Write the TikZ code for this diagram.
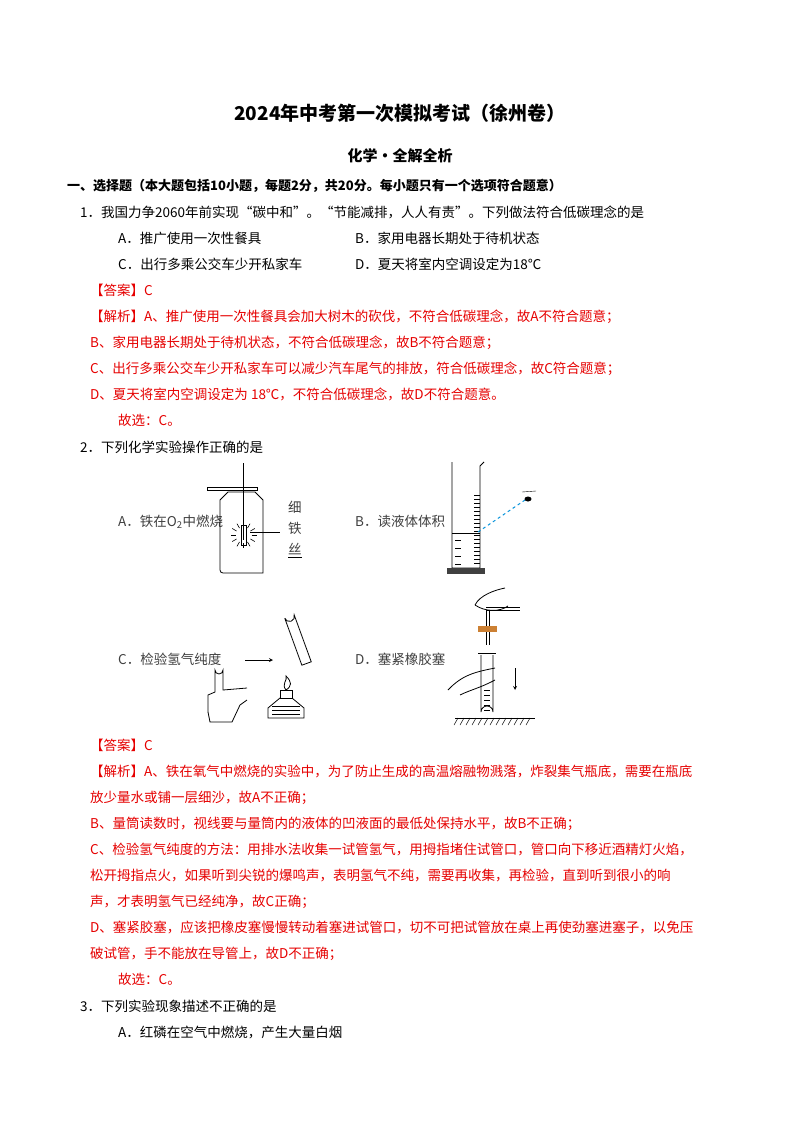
\documentclass[tikz,border=0pt]{standalone}
\usepackage{fontspec}
\usetikzlibrary{calc}
\setmainfont{Liberation Serif}
\newfontfamily\cjk{Noto Sans CJK SC}
\definecolor{ans}{RGB}{230,0,0}
\begin{document}
\begin{tikzpicture}[x=1pt,y=-1pt,
  t/.style={anchor=base west,inner sep=0pt,font=\cjk\fontsize{13.5}{14}\selectfont},
  r/.style={t,text=ans},
  fig/.style={line width=0.8pt},
  lab/.style={t,text=black!75}]
\useasboundingbox[fill=white] (0,0) rectangle (800,1132);
\node[anchor=base,inner sep=0pt,font=\cjk\bfseries\fontsize{19}{20}\selectfont] (title) at (400,120) {2024年中考第一次模拟考试（徐州卷）};
\node[anchor=base,inner sep=0pt,font=\cjk\bfseries\fontsize{15}{16}\selectfont] (sub) at (400,161) {化学·全解全析};
\node[t,font=\cjk\bfseries\fontsize{13}{14}\selectfont] (s1) at (67,190) {一、选择题（本大题包括10小题，每题2分，共20分。每小题只有一个选项符合题意）};
\node[t] (q1) at (80,217) {1．我国力争2060年前实现“碳中和”。“节能减排，人人有责”。下列做法符合低碳理念的是};
\node[t] (q1a) at (118,243) {A．推广使用一次性餐具};
\node[t] (q1b) at (355,243) {B．家用电器长期处于待机状态};
\node[t] (q1c) at (118,269) {C．出行多乘公交车少开私家车};
\node[t] (q1d) at (355,269) {D．夏天将室内空调设定为18℃};
\node[r] (a1) at (90,295) {【答案】C};
\node[r] (j1) at (90,321) {【解析】A、推广使用一次性餐具会加大树木的砍伐，不符合低碳理念，故A不符合题意；};
\node[r] (j2) at (90,347) {B、家用电器长期处于待机状态，不符合低碳理念，故B不符合题意；};
\node[r] (j3) at (90,373) {C、出行多乘公交车少开私家车可以减少汽车尾气的排放，符合低碳理念，故C符合题意；};
\node[r] (j4) at (90,399) {D、夏天将室内空调设定为 18℃，不符合低碳理念，故D不符合题意。};
\node[r] (j5) at (118,425) {故选：C。};
\node[t] (q2) at (80,452) {2．下列化学实验操作正确的是};
% A figure
\node[lab] (la) at (118,526) {A．铁在O\textsubscript{2}中燃烧};
\draw[fig] (220,500) -- (220,570) to[rounded corners=3pt] (220,573) -- (263,573) -- (263,500) -- (255,492) -- (228,492) -- cycle;
\draw[fig] (207,487) rectangle (257,490);
\draw[fig] (243,463) -- (243,540);
\draw[fig] (241,525) rectangle (246,545);
\foreach \a in {0,30,...,330} \draw[line width=0.6pt] ($(243.5,535)+(\a:8)$) -- ($(243.5,535)+(\a:13)$);
\draw[fig] (250,532) -- (280,532);
\node[lab] (l1) at (288,512) {细};
\node[lab] (l2) at (288,533) {铁};
\node[lab] (l3) at (288,554) {丝};
\draw[line width=0.5pt] (288,557) -- (302,557);
% B figure
\node[lab] (lb) at (355,526) {B．读液体体积};
\draw[fig] (452,462) -- (452,568) -- (480,568) -- (480,466) -- (484,462);
\fill[black!75] (447,568) rectangle (485,574);
\foreach \y in {495,499,...,566} \draw[line width=0.4pt] (474,\y) -- (480,\y);
\foreach \y in {540,548,...,566} \draw[line width=0.5pt] (455,\y) -- (461,\y);
\draw[line width=0.5pt] (452,533) -- (480,533);
\draw[cyan!80!blue,dashed,line width=1pt] (478,532) -- (525,500);
\fill (528,499) ellipse (3.5pt and 2.5pt);
\draw (522,492) -- (536,491);
% C figure
\node[lab] (lc) at (118,664) {C．检验氢气纯度};
\draw[fig] (208,712) -- (208,695) -- (215,692) -- (215,670) arc(180:0:4) -- (223,690) -- (247,688);
\draw[fig] (208,712) -- (210,722) -- (232,722) -- (240,705) -- (247,700);
\draw[fig,-stealth] (245,660) -- (273,660);
\draw[fig,rotate around={20:(298,640)}] (293,615) -- (293,665) -- (303,665) -- (303,615) arc(0:180:5);
\draw[fig] (280,690) rectangle (292,698);
\draw[fig] (286,690) .. controls (281,684) and (288,680) .. (286,676) .. controls (292,682) and (292,686) .. (286,690);
\draw[fig] (280,698) -- (268,708) -- (268,718) -- (304,718) -- (304,708) -- (292,698);
\foreach \y in {706,710,714} \draw[line width=0.4pt] (272,\y) -- (300,\y);
% D figure
\node[lab] (ld) at (355,664) {D．塞紧橡胶塞};
\draw[fig] (481,655) -- (481,712) arc(180:360:6) -- (493,655);
\draw[fig] (478,653) -- (496,653);
\foreach \y in {690,695,...,712} \draw[line width=0.4pt] (484,\y) -- (490,\y);
\draw[fig] (486,610) -- (486,645) (489,610) -- (489,645);
\fill[brown!80!orange] (478,626) rectangle (497,632);
\draw[fig] (486,610) -- (520,610) (486,607) -- (520,607);
\draw[fig] (475,605) .. controls (480,595) and (495,590) .. (505,588);
\draw[fig] (475,605) .. controls (485,612) and (500,612) .. (508,606);
\draw[fig] (448,690) .. controls (462,675) and (475,672) .. (495,668);
\draw[fig] (460,695) .. controls (470,690) and (480,688) .. (495,680);
\draw[fig,-stealth] (515,668) -- (515,690);
\draw[fig] (455,718) -- (535,718);
\foreach \x in {458,464,...,532} \draw[line width=0.5pt] (\x,718) -- (\x-4,725);
% answer 2
\node[r] (a2) at (90,750) {【答案】C};
\node[r] (k1) at (90,776) {【解析】A、铁在氧气中燃烧的实验中，为了防止生成的高温熔融物溅落，炸裂集气瓶底，需要在瓶底};
\node[r] (k2) at (90,802) {放少量水或铺一层细沙，故A不正确；};
\node[r] (k3) at (90,828) {B、量筒读数时，视线要与量筒内的液体的凹液面的最低处保持水平，故B不正确；};
\node[r] (k4) at (90,854) {C、检验氢气纯度的方法：用排水法收集一试管氢气，用拇指堵住试管口，管口向下移近酒精灯火焰，};
\node[r] (k5) at (90,880) {松开拇指点火，如果听到尖锐的爆鸣声，表明氢气不纯，需要再收集，再检验，直到听到很小的响};
\node[r] (k6) at (90,906) {声，才表明氢气已经纯净，故C正确；};
\node[r] (k7) at (90,932) {D、塞紧胶塞，应该把橡皮塞慢慢转动着塞进试管口，切不可把试管放在桌上再使劲塞进塞子，以免压};
\node[r] (k8) at (90,958) {破试管，手不能放在导管上，故D不正确；};
\node[r] (k9) at (118,984) {故选：C。};
\node[t] (q3) at (80,1011) {3．下列实验现象描述不正确的是};
\node[t] (q3a) at (118,1037) {A．红磷在空气中燃烧，产生大量白烟};
\end{tikzpicture}
\end{document}
